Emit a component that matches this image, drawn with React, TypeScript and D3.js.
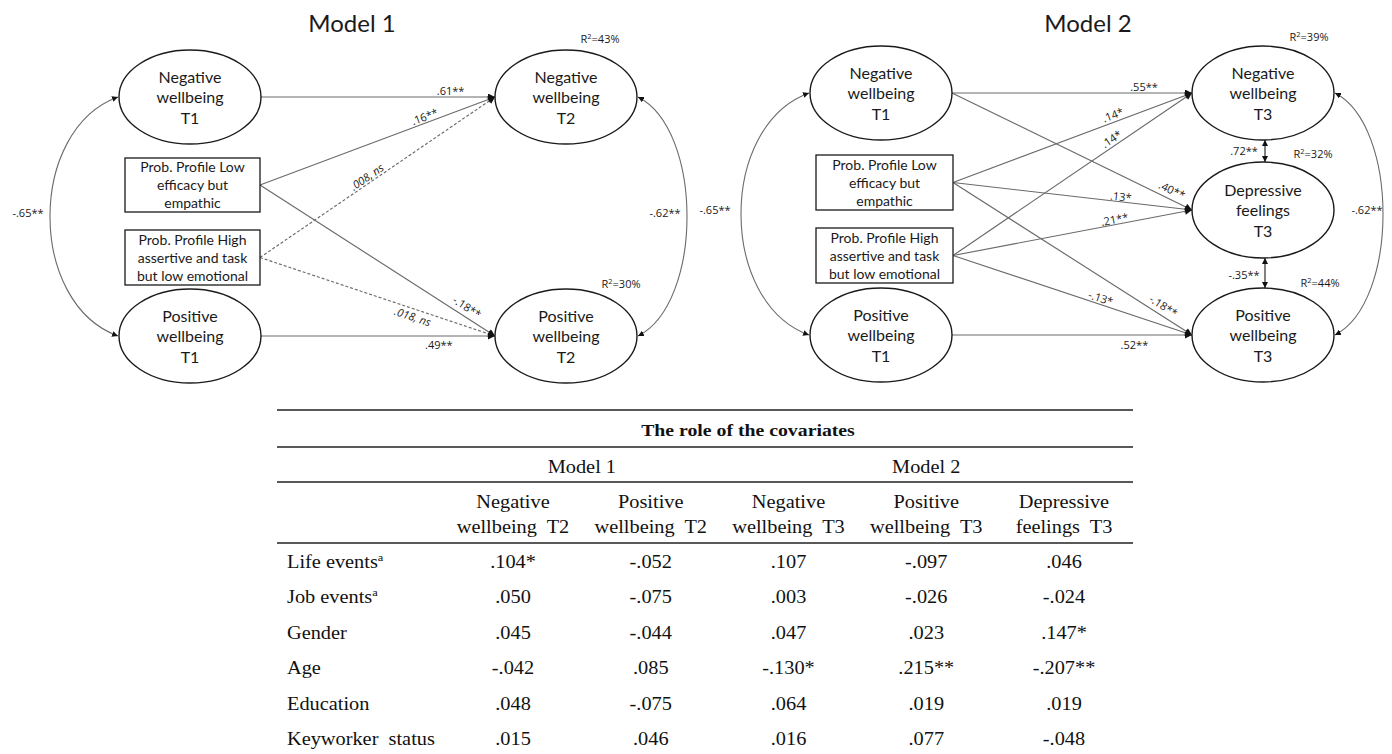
import React from "react";
import * as d3 from "d3";

// ---------------- DATA ----------------
const model1Title = "Model 1";
const model2Title = "Model 2";
const predictorT1Labels = [
  ["Negative", "wellbeing", "T1"],
  ["Positive", "wellbeing", "T1"],
];
const profileLabels = [
  ["Prob. Profile Low", "efficacy but", "empathic"],
  ["Prob. Profile High", "assertive and task", "but low emotional"],
];
const model1Outcomes = [
  ["Negative", "wellbeing", "T2"],
  ["Positive", "wellbeing", "T2"],
];
const model2Outcomes = [
  ["Negative", "wellbeing", "T3"],
  ["Depressive", "feelings", "T3"],
  ["Positive", "wellbeing", "T3"],
];
const model1R2 = ["43%", "30%"];
const model2R2 = ["39%", "32%", "44%"];

const model1PathFrom = ["negT1", "box1", "box2", "box1", "box2", "posT1"];
const model1PathTo = ["out0", "out0", "out0", "out1", "out1", "out1"];
const model1Coefs = [".61**", ".16**", ".008, ns", "-.18**", ".018, ns", ".49**"];

const model2PathFrom = ["negT1", "negT1", "box1", "box2", "box1", "box2", "box2", "box1", "posT1"];
const model2PathTo = ["out0", "out1", "out0", "out0", "out1", "out1", "out2", "out2", "out2"];
const model2Coefs = [".55**", ".40**", ".14*", ".14*", ".13*", ".21**", "-.13*", "-.18**", ".52**"];

const model1Covs = ["-.65**", "-.62**"];
const model2Covs = ["-.65**", "-.62**", ".72**", "-.35**"];

const tableTitle = "The role of the covariates";
const modelGroups = ["Model 1", "Model 2"];
const columnHeaders = [
  ["Negative", "wellbeing  T2"],
  ["Positive", "wellbeing  T2"],
  ["Negative", "wellbeing  T3"],
  ["Positive", "wellbeing  T3"],
  ["Depressive", "feelings  T3"],
];
const rowLabels = ["Life events", "Job events", "Gender", "Age", "Education", "Keyworker  status"];
const rowSuperscripts = ["a", "a", "", "", "", ""];
const negWellbeingT2 = [".104*", ".050", ".045", "-.042", ".048", ".015"];
const posWellbeingT2 = ["-.052", "-.075", "-.044", ".085", "-.075", ".046"];
const negWellbeingT3 = [".107", ".003", ".047", "-.130*", ".064", ".016"];
const posWellbeingT3 = ["-.097", "-.026", ".023", ".215**", ".019", ".077"];
const depFeelingsT3 = [".046", "-.024", ".147*", "-.207**", ".019", "-.048"];

// ---------------- LAYOUT ----------------
const W = 1392;
const H = 754;
const SANS = "Lato, 'Noto Sans', sans-serif";
const LABEL = "'Open Sans', 'Noto Sans', sans-serif";
const SERIF = "'Liberation Serif', 'Times New Roman', serif";
const INK = "#1a1a1a";
const LINE = "#6a6a6a";

type Cfg = {
  titleX: number;
  t1x: number;
  outx: number;
  rx: number;
  ry: number;
  boxX0: number;
  boxX1: number;
  boxYs: number[][];
  t1Ys: number[];
  outYs: number[];
  curveLeftX: number;
  curveRightX: number;
  covLabelDx: number[];
  r2Off: number[][];
  labelPos: number[][];
};

const cfg1: Cfg = {
  titleX: 352,
  t1x: 190,
  outx: 566,
  rx: 71,
  ry: 47,
  boxX0: 125,
  boxX1: 260,
  boxYs: [[158, 212], [230, 285]],
  t1Ys: [97, 336],
  outYs: [97, 336],
  curveLeftX: 50,
  curveRightX: 687,
  covLabelDx: [-22, -22],
  r2Off: [[34, -58], [55, -52]],
  labelPos: [[0.81, 6], [0.71, 6], [0.47, 6], [0.86, 9], [0.66, -8], [0.76, -9]],
};

const cfg2: Cfg = {
  titleX: 1088,
  t1x: 881,
  outx: 1263,
  rx: 71,
  ry: 47,
  boxX0: 816,
  boxX1: 953,
  boxYs: [[155, 210], [228, 283]],
  t1Ys: [93, 335],
  outYs: [93, 210, 335],
  curveLeftX: 741,
  curveRightX: 1383,
  covLabelDx: [-26, -16],
  r2Off: [[46, -56], [50, -56], [57, -52]],
  labelPos: [[0.8, 6], [0.9, 9], [0.68, 7], [0.68, 7], [0.7, 5], [0.68, 5], [0.61, 6], [0.86, 9], [0.76, -10]],
};

function NodeEllipse({ cx, cy, rx, ry, lines }: { cx: number; cy: number; rx: number; ry: number; lines: string[] }) {
  return (
    <g>
      <ellipse cx={cx} cy={cy} rx={rx} ry={ry} fill="#fff" stroke={INK} strokeWidth={1.4} />
      {lines.map((l, i) => (
        <text key={i} x={cx} y={cy + (i - 1) * 20.5 + 6} textAnchor="middle" fontSize={16} fill={INK} fontFamily={SANS}>
          {l}
        </text>
      ))}
    </g>
  );
}

function NodeBox({ x0, x1, y0, y1, lines }: { x0: number; x1: number; y0: number; y1: number; lines: string[] }) {
  const cy = (y0 + y1) / 2;
  const cx = (x0 + x1) / 2;
  return (
    <g>
      <rect x={x0} y={y0} width={x1 - x0} height={y1 - y0} fill="#fff" stroke={INK} strokeWidth={1.3} />
      {lines.map((l, i) => (
        <text key={i} x={cx} y={cy + (i - 1) * 18 + 5} textAnchor="middle" fontSize={14} fill={INK} fontFamily={SANS}>
          {l}
        </text>
      ))}
    </g>
  );
}

function R2({ x, y, v }: { x: number; y: number; v: string }) {
  return (
    <text x={x} y={y + 4} textAnchor="middle" fontSize={11} fill={INK} fontFamily={LABEL}>
      R<tspan fontSize={7.5} dy={-4.5}>2</tspan>
      <tspan dy={4.5}>={v}</tspan>
    </text>
  );
}

function Model({
  cfg,
  title,
  outcomes,
  r2,
  from,
  to,
  coefs,
  covs,
}: {
  cfg: Cfg;
  title: string;
  outcomes: string[][];
  r2: string[];
  from: string[];
  to: string[];
  coefs: string[];
  covs: string[];
}) {
  const pts: Record<string, { x: number; y: number }> = {
    negT1: { x: cfg.t1x + cfg.rx, y: cfg.t1Ys[0] },
    posT1: { x: cfg.t1x + cfg.rx, y: cfg.t1Ys[1] },
    box1: { x: cfg.boxX1, y: (cfg.boxYs[0][0] + cfg.boxYs[0][1]) / 2 },
    box2: { x: cfg.boxX1, y: (cfg.boxYs[1][0] + cfg.boxYs[1][1]) / 2 },
  };
  outcomes.forEach((_, i) => {
    pts["out" + i] = { x: cfg.outx - cfg.rx, y: cfg.outYs[i] };
  });

  const paths = coefs.map((c, i) => {
    const a = pts[from[i]];
    const b = pts[to[i]];
    const dx = b.x - a.x;
    const dy = b.y - a.y;
    const len = Math.hypot(dx, dy);
    const [t, off] = cfg.labelPos[i];
    const nx = dy / len;
    const ny = -dx / len;
    const lx = a.x + t * dx + off * nx;
    const ly = a.y + t * dy + off * ny;
    const ang = (Math.atan2(dy, dx) * 180) / Math.PI;
    return { a, b, c, lx, ly, ang, dashed: c.includes("ns") };
  });

  const curve = (x: number, y0: number, y1: number, bulgeX: number) => {
    const cx = (bulgeX - 0.25 * x) / 0.75;
    const p = d3.path();
    p.moveTo(x, y0);
    p.bezierCurveTo(cx, y0 + 33, cx, y1 - 33, x, y1);
    return p.toString();
  };

  const leftX = cfg.t1x - cfg.rx - 1;
  const rightX = cfg.outx + cfg.rx + 1;
  const lastOut = outcomes.length - 1;
  const leftMid = (cfg.t1Ys[0] + cfg.t1Ys[1]) / 2;
  const rightMid = (cfg.outYs[0] + cfg.outYs[lastOut]) / 2;

  const vertArrows: { y0: number; y1: number; label: string; dy: number }[] = [];
  if (outcomes.length === 3) {
    vertArrows.push({ y0: cfg.outYs[0] + cfg.ry, y1: cfg.outYs[1] - cfg.ry - 1, label: covs[2], dy: 0 });
    vertArrows.push({ y0: cfg.outYs[1] + cfg.ry + 1, y1: cfg.outYs[2] - cfg.ry, label: covs[3], dy: 1.5 });
  }

  return (
    <g>
      <text x={cfg.titleX} y={32} textAnchor="middle" fontSize={24} fill={INK} fontFamily={SANS}>
        {title}
      </text>

      {/* covariance curves */}
      <path d={curve(leftX, cfg.t1Ys[0], cfg.t1Ys[1], cfg.curveLeftX)} fill="none" stroke={LINE} strokeWidth={1.1}
        markerStart="url(#ahs)" markerEnd="url(#ahs)" />
      <path d={curve(rightX, cfg.outYs[0], cfg.outYs[lastOut], cfg.curveRightX)} fill="none" stroke={LINE} strokeWidth={1.1}
        markerStart="url(#ahs)" markerEnd="url(#ahs)" />
      <text x={cfg.curveLeftX + cfg.covLabelDx[0]} y={leftMid} textAnchor="middle" fontSize={11} fill={INK} fontFamily={LABEL}>
        {covs[0]}
      </text>
      <text x={cfg.curveRightX + cfg.covLabelDx[1]} y={rightMid} textAnchor="middle" fontSize={11} fill={INK} fontFamily={LABEL}>
        {covs[1]}
      </text>

      {/* regression paths */}
      {paths.map((p, i) => (
        <line key={i} x1={p.a.x} y1={p.a.y} x2={p.b.x} y2={p.b.y} stroke={LINE} strokeWidth={1.15}
          strokeDasharray={p.dashed ? "3,2" : undefined} markerEnd="url(#ah)" />
      ))}

      {/* vertical double arrows */}
      {vertArrows.map((v, i) => (
        <g key={i}>
          <line x1={cfg.outx + 2} x2={cfg.outx + 2} y1={v.y0} y2={v.y1} stroke={INK} strokeWidth={1.1}
            markerStart="url(#ahs)" markerEnd="url(#ahs)" />
          <text x={cfg.outx + 2 - 21} y={(v.y0 + v.y1) / 2 + v.dy + 4} textAnchor="middle" fontSize={11} fill={INK} fontFamily={LABEL}>
            {v.label}
          </text>
        </g>
      ))}

      {/* nodes */}
      {predictorT1Labels.map((l, i) => (
        <NodeEllipse key={"t1" + i} cx={cfg.t1x} cy={cfg.t1Ys[i]} rx={cfg.rx} ry={cfg.ry} lines={l} />
      ))}
      {profileLabels.map((l, i) => (
        <NodeBox key={"b" + i} x0={cfg.boxX0} x1={cfg.boxX1} y0={cfg.boxYs[i][0]} y1={cfg.boxYs[i][1]} lines={l} />
      ))}
      {outcomes.map((l, i) => (
        <NodeEllipse key={"o" + i} cx={cfg.outx} cy={cfg.outYs[i]} rx={cfg.rx} ry={i === 1 && outcomes.length === 3 ? 48 : cfg.ry} lines={l} />
      ))}
      {r2.map((v, i) => (
        <R2 key={"r" + i} x={cfg.outx + cfg.r2Off[i][0]} y={cfg.outYs[i] + cfg.r2Off[i][1]} v={v} />
      ))}

      {/* path labels */}
      {paths.map((p, i) => (
        <text key={"l" + i} transform={`translate(${p.lx},${p.ly}) rotate(${p.ang})`} textAnchor="middle" dy="0.35em"
          fontSize={11} fill={INK} fontFamily={LABEL} fontStyle={p.dashed ? "italic" : "normal"}>
          {p.c}
        </text>
      ))}
    </g>
  );
}

function SText({ x, y, children, bold, size = 18, anchor = "middle" }: any) {
  return (
    <text transform={`translate(${x},${y}) scale(1.13,1)`} textAnchor={anchor} fontSize={size} fill="#111"
      fontFamily={SERIF} fontWeight={bold ? "bold" : "normal"} style={{ whiteSpace: "pre" }}>
      {children}
    </text>
  );
}

function CovTable() {
  const columns = [negWellbeingT2, posWellbeingT2, negWellbeingT3, posWellbeingT3, depFeelingsT3];
  const colX = d3.scalePoint<number>().domain(d3.range(columns.length)).range([513, 1064]);
  const rowY = d3.scalePoint<number>().domain(d3.range(rowLabels.length)).range([568, 745]);
  const x0 = 277;
  const x1 = 1133;
  const rules = [410, 447, 482, 543];
  const groupX = [
    ((colX(0) as number) + (colX(1) as number)) / 2,
    colX(3) as number,
  ];
  return (
    <g>
      {rules.map((y) => (
        <line key={y} x1={x0} x2={x1} y1={y} y2={y} stroke="#222" strokeWidth={1.5} />
      ))}
      <SText x={748} y={436} bold size={17.5}>{tableTitle}</SText>
      {modelGroups.map((g, i) => (
        <SText key={g} x={groupX[i]} y={473}>{g}</SText>
      ))}
      {columnHeaders.map((h, i) => (
        <g key={i}>
          <SText x={colX(i)} y={508}>{h[0]}</SText>
          <SText x={colX(i)} y={533}>{h[1]}</SText>
        </g>
      ))}
      {rowLabels.map((r, j) => (
        <text key={r} transform={`translate(287,${rowY(j)}) scale(1.13,1)`} fontSize={18} fill="#111" fontFamily={SERIF}
          style={{ whiteSpace: "pre" }}>
          {r}
          {rowSuperscripts[j] ? <tspan fontSize={11} dy={-7}>{rowSuperscripts[j]}</tspan> : null}
        </text>
      ))}
      {columns.map((col, i) =>
        col.map((v, j) => (
          <SText key={i + "-" + j} x={colX(i)} y={rowY(j)}>{v}</SText>
        ))
      )}
    </g>
  );
}

export default function App() {
  return (
    <svg width={W} height={H} viewBox={`0 0 ${W} ${H}`} style={{ position: "absolute", left: 0, top: 0, background: "#fff" }}>
      <defs>
        <marker id="ah" viewBox="0 0 10 10" refX={10} refY={5} markerWidth={8} markerHeight={7}
          markerUnits="userSpaceOnUse" orient="auto-start-reverse">
          <path d="M0,0 L10,5 L0,10 z" fill="#111" />
        </marker>
        <marker id="ahs" viewBox="0 0 10 10" refX={10} refY={5} markerWidth={6} markerHeight={6}
          markerUnits="userSpaceOnUse" orient="auto-start-reverse">
          <path d="M0,0 L10,5 L0,10 z" fill="#111" />
        </marker>
      </defs>
      <rect width={W} height={H} fill="#fff" />
      <Model cfg={cfg1} title={model1Title} outcomes={model1Outcomes} r2={model1R2} from={model1PathFrom}
        to={model1PathTo} coefs={model1Coefs} covs={model1Covs} />
      <Model cfg={cfg2} title={model2Title} outcomes={model2Outcomes} r2={model2R2} from={model2PathFrom}
        to={model2PathTo} coefs={model2Coefs} covs={model2Covs} />
      <CovTable />
    </svg>
  );
}
